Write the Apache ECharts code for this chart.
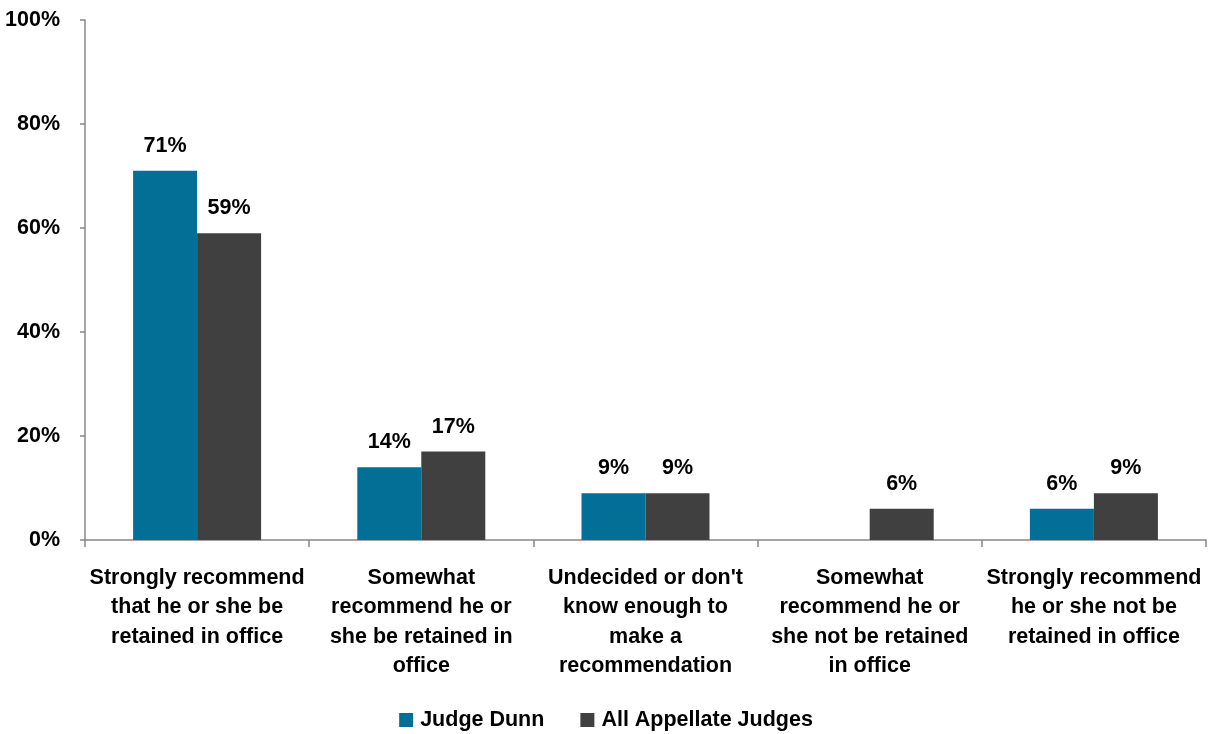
<!DOCTYPE html>
<html><head><meta charset="utf-8">
<script src="https://cdn.jsdelivr.net/npm/echarts@6/dist/echarts.min.js"></script>
<style>html,body{margin:0;padding:0;background:#fff}#c{width:1212px;height:734px}</style>
</head><body><div id="c"></div>
<script>
const categories = [
  "Strongly recommend\nthat he or she be\nretained in office",
  "Somewhat\nrecommend he or\nshe be retained in\noffice",
  "Undecided or don't\nknow enough to\nmake a\nrecommendation",
  "Somewhat\nrecommend he or\nshe not be retained\nin office",
  "Strongly recommend\nhe or she not be\nretained in office"
];
const judgeDunn = [71, 14, 9, null, 6];
const allAppellate = [59, 17, 9, 6, 9];
const seriesNames = ["Judge Dunn", "All Appellate Judges"];

const FONT = "'Liberation Sans', Arial, sans-serif";
const chart = echarts.init(document.getElementById('c'));
const lbl = {show: true, position: 'top', distance: 14, formatter: p => p.value + '%',
  color: '#000', fontWeight: 'bold', fontSize: 21.5, fontFamily: FONT};
chart.setOption({
  animation: false,
  textStyle: {fontFamily: FONT},
  grid: {left: 85, right: 6, top: 20, bottom: 194, containLabel: false},
  legend: {top: 704, left: 'center', itemWidth: 14, itemHeight: 14, itemGap: 36,
    icon: 'rect',
    textStyle: {fontSize: 21.5, fontWeight: 'bold', color: '#000', fontFamily: FONT, padding: [0, 0, 0, 2]},
    data: seriesNames},
  xAxis: {type: 'category', data: categories,
    axisLine: {lineStyle: {color: '#888', width: 1.5}},
    axisTick: {show: true, length: 7, alignWithLabel: false, lineStyle: {color: '#888', width: 1.5}},
    axisLabel: {interval: 0, margin: 23, fontSize: 21.5, lineHeight: 29.5, fontWeight: 'bold', color: '#000', fontFamily: FONT}
  },
  yAxis: {type: 'value', min: 0, max: 100, interval: 20,
    axisLine: {show: true, lineStyle: {color: '#888', width: 1.5}},
    axisTick: {show: true, length: 5, lineStyle: {color: '#888', width: 1.5}},
    splitLine: {show: false},
    axisLabel: {formatter: '{value}%', margin: 25, fontSize: 21.5, fontWeight: 'bold', color: '#000', fontFamily: FONT}
  },
  series: [
    {name: seriesNames[0], type: 'bar', data: judgeDunn, barWidth: 64, barGap: '0%',
      itemStyle: {color: '#036E96'}, label: lbl},
    {name: seriesNames[1], type: 'bar', data: allAppellate, barWidth: 64, barGap: '0%',
      itemStyle: {color: '#404040'}, label: lbl}
  ]
});
</script></body></html>
